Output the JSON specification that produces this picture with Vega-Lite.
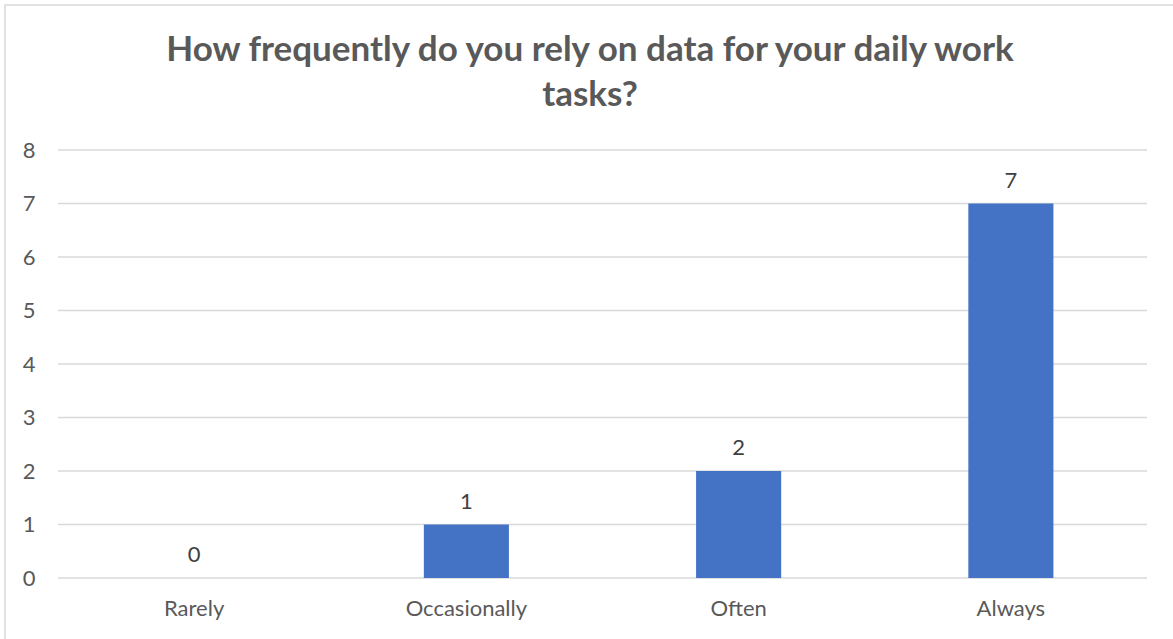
{
  "$schema": "https://vega.github.io/schema/vega-lite/v6.json",
  "width": 1170,
  "height": 640,
  "autosize": {"type": "none"},
  "padding": {"left": 5, "top": 5, "right": 0, "bottom": 0},
  "background": "white",
  "config": {
    "view": {"stroke": "#d9d9d9", "strokeWidth": 1.5},
    "font": "Lato"
  },
  "title": {
    "text": ["How frequently do you rely on data for your daily work", "tasks?"],
    "font": "Lato",
    "fontSize": 35,
    "fontWeight": "bold",
    "color": "#595959",
    "anchor": "middle",
    "frame": "group",
    "baseline": "top",
    "offset": 0,
    "dy": 108,
    "lineHeight": 45
  },
  "datasets": {
    "responses": [
      {"frequency": "Rarely", "count": 0},
      {"frequency": "Occasionally", "count": 1},
      {"frequency": "Often", "count": 2},
      {"frequency": "Always", "count": 7}
    ],
    "gridlines": [
      {"level": 0}, {"level": 1}, {"level": 2}, {"level": 3}, {"level": 4},
      {"level": 5}, {"level": 6}, {"level": 7}, {"level": 8}
    ]
  },
  "resolve": {"scale": {"x": "independent"}},
  "layer": [
    {
      "data": {"name": "gridlines"},
      "mark": {"type": "rule", "color": "#d9d9d9", "strokeWidth": 1.5},
      "encoding": {
        "y": {
          "field": "level",
          "type": "quantitative",
          "scale": {"domain": [0, 8], "range": [573, 145]},
          "axis": {
            "title": null,
            "domain": false,
            "ticks": false,
            "tickSize": 0,
            "grid": false,
            "values": [0, 1, 2, 3, 4, 5, 6, 7, 8],
            "labelAlign": "right",
            "labelPadding": -30,
            "labelOverlap": false,
            "labelFontSize": 22,
            "labelColor": "#595959"
          }
        },
        "x": {
          "datum": 0,
          "type": "quantitative",
          "scale": {"domain": [0, 1], "range": [53, 1142]},
          "axis": null
        },
        "x2": {"datum": 1}
      }
    },
    {
      "data": {"name": "responses"},
      "encoding": {
        "x": {
          "field": "frequency",
          "type": "nominal",
          "sort": null,
          "scale": {"range": [53, 1142], "paddingInner": 0.6875, "paddingOuter": 0.34375},
          "axis": {
            "title": null,
            "domain": false,
            "ticks": false,
            "tickSize": 0,
            "grid": false,
            "labelAngle": 0,
            "offset": -67,
            "labelPadding": 20,
            "labelFontSize": 22,
            "labelColor": "#595959"
          }
        },
        "y": {
          "field": "count",
          "type": "quantitative",
          "scale": {"domain": [0, 8], "range": [573, 145]},
          "axis": {
            "title": null,
            "domain": false,
            "ticks": false,
            "tickSize": 0,
            "grid": false,
            "values": [0, 1, 2, 3, 4, 5, 6, 7, 8],
            "labelAlign": "right",
            "labelPadding": -30,
            "labelOverlap": false,
            "labelFontSize": 22,
            "labelColor": "#595959"
          }
        }
      },
      "layer": [
        {"mark": {"type": "bar", "color": "#4472c4"}},
        {
          "mark": {
            "type": "text",
            "baseline": "alphabetic",
            "dy": -16,
            "fontSize": 22,
            "color": "#404040"
          },
          "encoding": {"text": {"field": "count", "type": "quantitative"}}
        }
      ]
    }
  ]
}
